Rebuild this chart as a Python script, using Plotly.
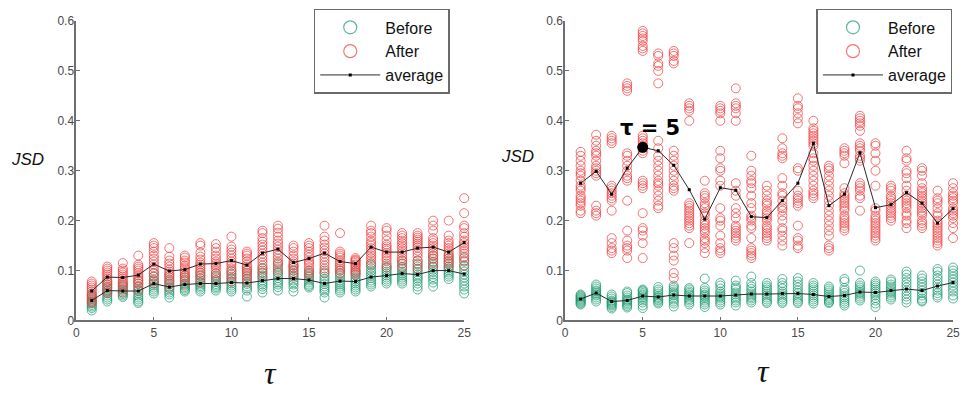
import plotly.graph_objects as go

# ---------------------------------------------------------------- data
tau = list(range(1, 26))

x_ticks = [0, 5, 10, 15, 20, 25]
y_ticks = [0, 0.1, 0.2, 0.3, 0.4, 0.5, 0.6]
y_tick_labels = ["0", "0.1", "0.2", "0.3", "0.4", "0.5", "0.6"]

# left panel: JSD per trial, one list per tau
left_before = [
    [0.052, 0.048, 0.044, 0.04, 0.037, 0.034, 0.031, 0.028, 0.025, 0.02],
    [0.078, 0.072, 0.068, 0.064, 0.06, 0.057, 0.054, 0.05, 0.046, 0.042, 0.038],
    [0.075, 0.07, 0.066, 0.062, 0.059, 0.056, 0.053, 0.05, 0.047],
    [0.08, 0.074, 0.068, 0.063, 0.059, 0.055, 0.05, 0.046, 0.042, 0.038, 0.035],
    [0.095, 0.088, 0.082, 0.078, 0.074, 0.07, 0.066, 0.062, 0.058, 0.054],
    [0.09, 0.082, 0.077, 0.072, 0.068, 0.064, 0.06, 0.056, 0.052, 0.046],
    [0.09, 0.086, 0.082, 0.078, 0.074, 0.07, 0.067, 0.064, 0.061, 0.058],
    [0.095, 0.09, 0.085, 0.08, 0.076, 0.072, 0.069, 0.066, 0.062, 0.058],
    [0.095, 0.09, 0.085, 0.081, 0.077, 0.073, 0.07, 0.067, 0.064, 0.06],
    [0.1, 0.094, 0.088, 0.083, 0.078, 0.074, 0.07, 0.066, 0.062, 0.058],
    [0.1, 0.094, 0.088, 0.083, 0.078, 0.073, 0.068, 0.064, 0.06, 0.048],
    [0.105, 0.1, 0.095, 0.09, 0.085, 0.08, 0.076, 0.072, 0.068, 0.063, 0.056],
    [0.115, 0.108, 0.1, 0.095, 0.09, 0.085, 0.08, 0.076, 0.072, 0.067, 0.06],
    [0.11, 0.105, 0.1, 0.095, 0.09, 0.085, 0.08, 0.076, 0.072, 0.066, 0.058],
    [0.1, 0.096, 0.092, 0.088, 0.084, 0.08, 0.076, 0.072, 0.069, 0.066],
    [0.1, 0.094, 0.088, 0.083, 0.078, 0.073, 0.068, 0.064, 0.06, 0.056, 0.046],
    [0.1, 0.095, 0.09, 0.085, 0.08, 0.076, 0.072, 0.068, 0.064, 0.06, 0.056],
    [0.1, 0.096, 0.091, 0.086, 0.082, 0.078, 0.074, 0.07, 0.066, 0.062, 0.058],
    [0.115, 0.11, 0.105, 0.1, 0.095, 0.09, 0.085, 0.08, 0.076, 0.072, 0.068],
    [0.11, 0.106, 0.102, 0.098, 0.094, 0.09, 0.086, 0.082, 0.078, 0.074],
    [0.12, 0.114, 0.108, 0.103, 0.098, 0.094, 0.09, 0.086, 0.082, 0.078, 0.074],
    [0.12, 0.114, 0.108, 0.102, 0.097, 0.092, 0.088, 0.084, 0.08, 0.074, 0.068, 0.062],
    [0.13, 0.124, 0.118, 0.112, 0.107, 0.102, 0.097, 0.092, 0.087, 0.082, 0.076, 0.068],
    [0.13, 0.124, 0.118, 0.113, 0.108, 0.104, 0.1, 0.096, 0.092, 0.088, 0.083],
    [0.125, 0.118, 0.11, 0.104, 0.098, 0.092, 0.086, 0.08, 0.074, 0.068, 0.062, 0.054],
]

left_after = [
    [0.078, 0.074, 0.07, 0.066, 0.062, 0.058, 0.054, 0.05, 0.046, 0.042, 0.038, 0.035],
    [0.108, 0.104, 0.1, 0.096, 0.092, 0.088, 0.084, 0.08, 0.076, 0.072, 0.066, 0.06, 0.055],
    [0.115, 0.104, 0.1, 0.096, 0.092, 0.088, 0.084, 0.08, 0.076, 0.072, 0.068, 0.062, 0.056],
    [0.13, 0.112, 0.108, 0.104, 0.1, 0.095, 0.09, 0.086, 0.082, 0.078, 0.074, 0.068, 0.06],
    [0.155, 0.15, 0.145, 0.138, 0.13, 0.124, 0.118, 0.112, 0.106, 0.1, 0.094, 0.088, 0.08, 0.074],
    [0.145, 0.128, 0.12, 0.114, 0.108, 0.102, 0.098, 0.094, 0.09, 0.086, 0.08, 0.074, 0.066],
    [0.13, 0.126, 0.12, 0.116, 0.11, 0.106, 0.102, 0.098, 0.094, 0.09, 0.086, 0.08, 0.072],
    [0.155, 0.15, 0.136, 0.128, 0.122, 0.116, 0.112, 0.108, 0.104, 0.1, 0.096, 0.09, 0.084, 0.076],
    [0.153, 0.145, 0.138, 0.13, 0.124, 0.118, 0.114, 0.11, 0.106, 0.1, 0.094, 0.088, 0.08],
    [0.168, 0.148, 0.142, 0.136, 0.13, 0.124, 0.118, 0.114, 0.11, 0.104, 0.098, 0.092, 0.085, 0.078],
    [0.138, 0.134, 0.13, 0.124, 0.118, 0.112, 0.108, 0.104, 0.1, 0.096, 0.09, 0.084, 0.076],
    [0.18, 0.175, 0.165, 0.158, 0.152, 0.146, 0.14, 0.134, 0.128, 0.122, 0.116, 0.11, 0.104, 0.096, 0.088],
    [0.19, 0.184, 0.176, 0.168, 0.16, 0.154, 0.148, 0.142, 0.136, 0.13, 0.124, 0.118, 0.112, 0.104, 0.096],
    [0.15, 0.145, 0.138, 0.13, 0.124, 0.118, 0.114, 0.11, 0.106, 0.1, 0.094, 0.088],
    [0.155, 0.15, 0.145, 0.138, 0.132, 0.126, 0.12, 0.116, 0.112, 0.106, 0.1, 0.094, 0.088],
    [0.19, 0.168, 0.16, 0.152, 0.146, 0.14, 0.134, 0.128, 0.122, 0.116, 0.11, 0.104, 0.096],
    [0.175, 0.138, 0.134, 0.13, 0.126, 0.12, 0.116, 0.112, 0.108, 0.104, 0.1, 0.094],
    [0.125, 0.122, 0.12, 0.118, 0.115, 0.112, 0.11, 0.107, 0.104, 0.1, 0.096, 0.092],
    [0.19, 0.18, 0.175, 0.168, 0.16, 0.155, 0.15, 0.145, 0.14, 0.135, 0.13, 0.125, 0.12, 0.112],
    [0.185, 0.18, 0.17, 0.16, 0.152, 0.148, 0.144, 0.14, 0.135, 0.13, 0.125, 0.12, 0.114, 0.106],
    [0.175, 0.17, 0.165, 0.16, 0.155, 0.15, 0.145, 0.14, 0.135, 0.13, 0.125, 0.12, 0.114, 0.106],
    [0.175, 0.17, 0.166, 0.162, 0.158, 0.154, 0.15, 0.146, 0.14, 0.134, 0.128, 0.12, 0.112, 0.104],
    [0.2, 0.19, 0.18, 0.165, 0.16, 0.155, 0.15, 0.145, 0.14, 0.135, 0.13, 0.124, 0.116, 0.108],
    [0.2, 0.17, 0.16, 0.155, 0.15, 0.145, 0.14, 0.135, 0.13, 0.125, 0.12, 0.115, 0.108],
    [0.245, 0.215, 0.19, 0.185, 0.175, 0.168, 0.16, 0.155, 0.15, 0.145, 0.14, 0.134, 0.128, 0.12, 0.11],
]

left_avg_before = [0.040, 0.060, 0.059, 0.059, 0.074, 0.067, 0.072, 0.074, 0.074, 0.076,
                   0.075, 0.080, 0.084, 0.084, 0.081, 0.074, 0.079, 0.078, 0.087, 0.090,
                   0.094, 0.092, 0.100, 0.100, 0.093]
left_avg_after = [0.059, 0.087, 0.086, 0.091, 0.113, 0.099, 0.102, 0.113, 0.114, 0.120,
                  0.111, 0.135, 0.143, 0.116, 0.124, 0.135, 0.118, 0.114, 0.147, 0.137,
                  0.137, 0.145, 0.147, 0.137, 0.156]

# right panel
right_before = [
    [0.052, 0.05, 0.048, 0.046, 0.044, 0.042, 0.04, 0.038, 0.036, 0.034, 0.032],
    [0.072, 0.068, 0.064, 0.06, 0.058, 0.055, 0.052, 0.05, 0.046, 0.042, 0.038],
    [0.052, 0.048, 0.044, 0.04, 0.038, 0.036, 0.034, 0.032, 0.03, 0.027, 0.024],
    [0.058, 0.055, 0.05, 0.046, 0.042, 0.04, 0.038, 0.035, 0.032, 0.029, 0.026],
    [0.062, 0.06, 0.058, 0.055, 0.052, 0.05, 0.047, 0.044, 0.04, 0.036, 0.03, 0.025],
    [0.067, 0.062, 0.058, 0.054, 0.05, 0.047, 0.045, 0.042, 0.04, 0.037, 0.034],
    [0.07, 0.066, 0.062, 0.058, 0.055, 0.052, 0.05, 0.046, 0.042, 0.038, 0.034, 0.028],
    [0.065, 0.062, 0.058, 0.055, 0.052, 0.05, 0.046, 0.043, 0.04, 0.036, 0.032],
    [0.084, 0.065, 0.06, 0.056, 0.052, 0.05, 0.047, 0.044, 0.04, 0.036, 0.032, 0.027],
    [0.075, 0.07, 0.064, 0.058, 0.054, 0.05, 0.047, 0.044, 0.04, 0.036, 0.032],
    [0.08, 0.07, 0.066, 0.062, 0.056, 0.052, 0.048, 0.044, 0.04, 0.036, 0.03],
    [0.088, 0.075, 0.068, 0.063, 0.058, 0.054, 0.05, 0.047, 0.044, 0.04, 0.036],
    [0.075, 0.07, 0.066, 0.062, 0.058, 0.054, 0.05, 0.046, 0.042, 0.038, 0.035],
    [0.083, 0.075, 0.07, 0.064, 0.058, 0.054, 0.05, 0.046, 0.042, 0.038, 0.035],
    [0.085, 0.078, 0.072, 0.066, 0.06, 0.055, 0.05, 0.046, 0.042, 0.038, 0.035],
    [0.075, 0.07, 0.066, 0.062, 0.058, 0.054, 0.05, 0.046, 0.042, 0.038, 0.034],
    [0.068, 0.064, 0.06, 0.056, 0.052, 0.048, 0.045, 0.042, 0.04, 0.037, 0.035],
    [0.083, 0.078, 0.065, 0.06, 0.055, 0.05, 0.046, 0.042, 0.038, 0.034, 0.03],
    [0.1, 0.075, 0.07, 0.066, 0.062, 0.058, 0.055, 0.052, 0.048, 0.044, 0.04],
    [0.078, 0.074, 0.07, 0.066, 0.062, 0.058, 0.054, 0.05, 0.045, 0.04, 0.034, 0.027],
    [0.082, 0.078, 0.072, 0.068, 0.064, 0.06, 0.057, 0.054, 0.05, 0.046, 0.042],
    [0.098, 0.092, 0.085, 0.078, 0.072, 0.066, 0.06, 0.054, 0.048, 0.042, 0.036],
    [0.09, 0.084, 0.078, 0.072, 0.066, 0.06, 0.055, 0.05, 0.044, 0.04, 0.038],
    [0.103, 0.098, 0.09, 0.084, 0.078, 0.072, 0.066, 0.06, 0.055, 0.05, 0.046],
    [0.106, 0.1, 0.094, 0.088, 0.082, 0.076, 0.07, 0.064, 0.058, 0.05, 0.044],
]

right_after = [
    [0.338, 0.33, 0.32, 0.31, 0.30, 0.295, 0.29, 0.28, 0.27, 0.265, 0.26, 0.25, 0.245, 0.24, 0.235, 0.23, 0.22, 0.215],
    [0.372, 0.36, 0.35, 0.34, 0.335, 0.33, 0.32, 0.31, 0.305, 0.30, 0.295, 0.29, 0.23, 0.22, 0.215, 0.21],
    [0.37, 0.365, 0.36, 0.355, 0.27, 0.265, 0.26, 0.255, 0.25, 0.245, 0.24, 0.22, 0.165, 0.155, 0.145, 0.14, 0.135],
    [0.475, 0.47, 0.465, 0.46, 0.335, 0.33, 0.32, 0.31, 0.30, 0.29, 0.285, 0.28, 0.24, 0.18, 0.16, 0.15, 0.145, 0.14, 0.125],
    [0.58, 0.575, 0.57, 0.565, 0.56, 0.55, 0.545, 0.54, 0.37, 0.365, 0.36, 0.355, 0.35, 0.345, 0.34, 0.335,
     0.28, 0.275, 0.27, 0.265, 0.215, 0.185, 0.18, 0.17, 0.155, 0.125],
    [0.535, 0.53, 0.515, 0.51, 0.5, 0.475, 0.36, 0.345, 0.33, 0.32, 0.31, 0.30, 0.29, 0.28, 0.275, 0.27, 0.26,
     0.25, 0.24, 0.23, 0.225],
    [0.54, 0.535, 0.53, 0.52, 0.515, 0.34, 0.33, 0.32, 0.31, 0.30, 0.29, 0.28, 0.27, 0.265, 0.26, 0.155, 0.145,
     0.13, 0.12, 0.095, 0.085],
    [0.435, 0.43, 0.425, 0.42, 0.40, 0.235, 0.23, 0.225, 0.22, 0.215, 0.21, 0.205, 0.20, 0.195, 0.19, 0.185, 0.155],
    [0.28, 0.255, 0.25, 0.245, 0.235, 0.23, 0.225, 0.215, 0.21, 0.20, 0.195, 0.19, 0.185, 0.18, 0.175, 0.165,
     0.16, 0.155, 0.145, 0.135],
    [0.43, 0.425, 0.42, 0.415, 0.40, 0.34, 0.325, 0.305, 0.30, 0.28, 0.27, 0.225, 0.205, 0.2, 0.19, 0.17, 0.155,
     0.145, 0.14, 0.135],
    [0.465, 0.435, 0.43, 0.425, 0.415, 0.40, 0.275, 0.26, 0.25, 0.225, 0.215, 0.205, 0.19, 0.185, 0.18, 0.175,
     0.17, 0.165, 0.16],
    [0.33, 0.30, 0.29, 0.28, 0.275, 0.265, 0.25, 0.235, 0.225, 0.21, 0.205, 0.20, 0.19, 0.185, 0.165, 0.145,
     0.14, 0.135, 0.13, 0.125],
    [0.27, 0.26, 0.25, 0.24, 0.235, 0.23, 0.22, 0.215, 0.21, 0.205, 0.20, 0.19, 0.185, 0.18, 0.175, 0.17, 0.165, 0.16],
    [0.365, 0.345, 0.335, 0.33, 0.325, 0.285, 0.27, 0.255, 0.25, 0.24, 0.23, 0.225, 0.22, 0.21, 0.2, 0.185,
     0.18, 0.17, 0.16, 0.15],
    [0.445, 0.43, 0.425, 0.415, 0.405, 0.395, 0.305, 0.30, 0.26, 0.25, 0.245, 0.24, 0.235, 0.23, 0.19, 0.165,
     0.16, 0.15, 0.145],
    [0.40, 0.385, 0.38, 0.375, 0.37, 0.365, 0.36, 0.355, 0.35, 0.335, 0.325, 0.32, 0.31, 0.30, 0.29, 0.28,
     0.27, 0.26, 0.255, 0.25, 0.245],
    [0.31, 0.305, 0.30, 0.29, 0.28, 0.27, 0.26, 0.25, 0.24, 0.23, 0.22, 0.21, 0.20, 0.19, 0.18, 0.17, 0.15,
     0.145, 0.14],
    [0.345, 0.34, 0.335, 0.33, 0.315, 0.265, 0.255, 0.25, 0.245, 0.24, 0.235, 0.23, 0.225, 0.22, 0.21, 0.205,
     0.2, 0.195, 0.19, 0.185, 0.18],
    [0.41, 0.405, 0.40, 0.395, 0.39, 0.38, 0.355, 0.35, 0.345, 0.34, 0.33, 0.325, 0.32, 0.275, 0.27, 0.265,
     0.26, 0.25, 0.245, 0.22],
    [0.355, 0.35, 0.335, 0.32, 0.30, 0.27, 0.225, 0.22, 0.21, 0.205, 0.20, 0.195, 0.19, 0.185, 0.18, 0.175,
     0.17, 0.165, 0.16],
    [0.27, 0.265, 0.26, 0.25, 0.245, 0.24, 0.235, 0.23, 0.225, 0.22, 0.215, 0.21, 0.205, 0.2],
    [0.34, 0.325, 0.32, 0.30, 0.295, 0.285, 0.27, 0.26, 0.25, 0.245, 0.24, 0.235, 0.23, 0.225, 0.215, 0.21,
     0.20, 0.195, 0.185],
    [0.305, 0.30, 0.29, 0.275, 0.265, 0.26, 0.255, 0.25, 0.245, 0.24, 0.235, 0.23, 0.225, 0.22, 0.215, 0.21,
     0.2, 0.195, 0.19, 0.185],
    [0.26, 0.245, 0.24, 0.235, 0.225, 0.215, 0.21, 0.2, 0.195, 0.19, 0.185, 0.18, 0.175, 0.17, 0.165, 0.16,
     0.155, 0.15],
    [0.275, 0.265, 0.255, 0.25, 0.245, 0.24, 0.235, 0.225, 0.22, 0.215, 0.21, 0.205, 0.195, 0.185, 0.165],
]

right_avg_before = [0.043, 0.055, 0.038, 0.040, 0.049, 0.047, 0.051, 0.049, 0.049, 0.049,
                    0.051, 0.053, 0.053, 0.054, 0.054, 0.052, 0.048, 0.050, 0.057, 0.056,
                    0.060, 0.063, 0.060, 0.069, 0.076]
right_avg_after = [0.275, 0.299, 0.253, 0.305, 0.347, 0.340, 0.311, 0.262, 0.203, 0.266,
                   0.261, 0.208, 0.206, 0.240, 0.275, 0.355, 0.230, 0.253, 0.336, 0.226,
                   0.232, 0.256, 0.235, 0.195, 0.224]

highlight_tau = 5

# ---------------------------------------------------------------- style
GREEN = "rgba(30,155,112,0.72)"
RED = "rgba(240,62,62,0.72)"
AVG = "#2b2b2b"
AXIS = "#6f6f6f"
TICKTXT = "#4a4a4a"

W, H = 965, 395
Y_DOM = [(H - 325) / H, (H - 14.5) / H]
X_DOMS = [[74 / W, 466 / W], [568 / W, 960 / W]]


def flatten(groups):
    xs, ys = [], []
    for t, vals in zip(tau, groups):
        xs.extend([t] * len(vals))
        ys.extend(vals)
    return xs, ys


fig = go.Figure()

panels = [
    ("x", "y", "legend", left_before, left_after, left_avg_before, left_avg_after),
    ("x2", "y2", "legend2", right_before, right_after, right_avg_before, right_avg_after),
]

for xa, ya, lg, before, after, avg_b, avg_a in panels:
    for groups, col in ((before, GREEN), (after, RED)):
        xs, ys = flatten(groups)
        fig.add_trace(go.Scatter(
            x=xs, y=ys, mode="markers", xaxis=xa, yaxis=ya, showlegend=False,
            cliponaxis=False, hoverinfo="skip",
            marker=dict(symbol="circle-open", size=9, color=col, line=dict(width=1, color=col)),
        ))
    # legend swatches
    for name, col in (("Before", GREEN), ("After", RED)):
        fig.add_trace(go.Scatter(
            x=[None], y=[None], mode="markers", name=name, xaxis=xa, yaxis=ya, legend=lg,
            marker=dict(symbol="circle-open", size=13, color=col, line=dict(width=1.2, color=col)),
        ))
    for vals, show in ((avg_b, False), (avg_a, True)):
        fig.add_trace(go.Scatter(
            x=tau, y=vals, mode="lines+markers", name="average", xaxis=xa, yaxis=ya,
            legend=lg, showlegend=show, cliponaxis=False,
            line=dict(color=AVG, width=1),
            marker=dict(symbol="square", size=3, color="#000000"),
        ))

# highlighted average point
fig.add_trace(go.Scatter(
    x=[highlight_tau], y=[right_avg_after[highlight_tau - 1]], mode="markers",
    xaxis="x2", yaxis="y2", showlegend=False, cliponaxis=False,
    marker=dict(symbol="circle", size=11, color="#000000"),
))

axis_common = dict(
    showline=True, linecolor=AXIS, linewidth=1.5, ticks="inside", ticklen=4,
    tickcolor=AXIS, tickwidth=1, showgrid=False, zeroline=False,
    tickfont=dict(family="Arial", size=12, color=TICKTXT),
)

legend_common = dict(
    bgcolor="white", bordercolor="#6a6a6a", borderwidth=1.5,
    font=dict(family="Arial", size=16, color="#111111"),
    xanchor="left", yanchor="top", itemwidth=60, tracegroupgap=0,
)

fig.update_layout(
    width=W, height=H, margin=dict(l=0, r=0, t=0, b=0),
    paper_bgcolor="white", plot_bgcolor="white",
    xaxis=dict(domain=X_DOMS[0], range=[0, 25], tickvals=x_ticks, anchor="y", **axis_common),
    yaxis=dict(domain=Y_DOM, range=[0, 0.6], tickvals=y_ticks, ticktext=y_tick_labels,
               anchor="x", ticklabelstandoff=-2, **axis_common),
    xaxis2=dict(domain=X_DOMS[1], range=[0, 25], tickvals=x_ticks, anchor="y2", **axis_common),
    yaxis2=dict(domain=Y_DOM, range=[0, 0.6], tickvals=y_ticks, ticktext=y_tick_labels,
                anchor="x2", ticklabelstandoff=-2, **axis_common),
    legend=dict(x=314 / W, y=(H - 2) / H, **legend_common),
    legend2=dict(x=822 / W, y=(H - 2) / H, **legend_common),
    showlegend=True,
)

# axis titles
for cx, cy in ((25, 158), (520, 155)):
    fig.add_annotation(
        text="<i>JSD</i>", x=cx / W, y=(H - cy) / H, xref="paper", yref="paper",
        showarrow=False, xanchor="center", yanchor="middle",
        font=dict(family="Arial", size=17, color="#111111"),
    )
for cx, cy in ((270, 379), (768, 377)):
    fig.add_annotation(
        text="<i>τ</i>", x=cx / W, y=(H - cy) / H, xref="paper", yref="paper",
        showarrow=False, xanchor="center", yanchor="middle",
        font=dict(family="Liberation Serif", size=32, color="#111111"),
    )

fig.add_annotation(
    text="<b>τ = 5</b>", x=5.45, y=0.385, xref="x2", yref="y2", showarrow=False,
    xanchor="center", yanchor="middle",
    font=dict(family="DejaVu Sans", size=21, color="#000000"),
)

fig.write_html("out.html")
